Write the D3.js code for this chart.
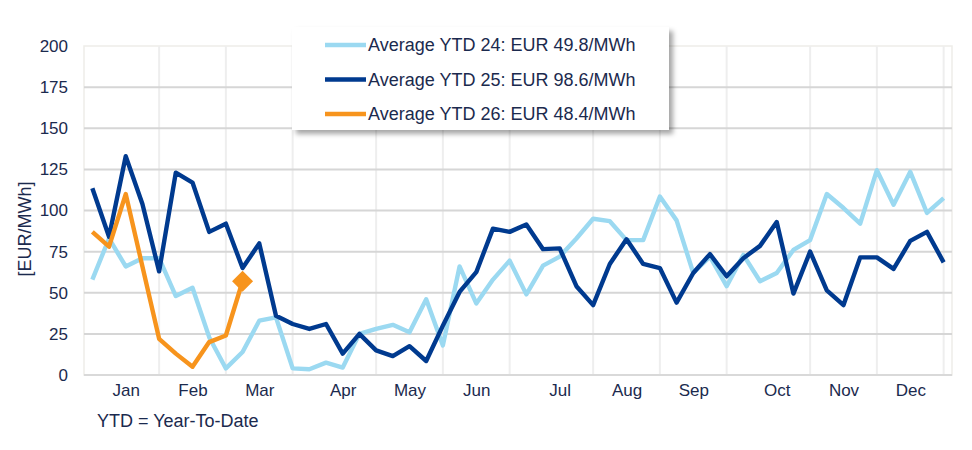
<!DOCTYPE html>
<html>
<head>
<meta charset="utf-8">
<script src="https://cdn.jsdelivr.net/npm/d3@7"></script>
<style>
  html, body { margin: 0; padding: 0; background: #fff; }
  svg { display: block; font-family: "Liberation Sans", Arial, sans-serif; }
</style>
</head>
<body>
<svg id="chart" width="972" height="450"></svg>
<script>
// ---- data ----
const weeks = d3.range(1, 53);
const series24 = [58, 83, 66, 71, 71, 48, 53, 23, 4, 14, 33, 35, 4, 3.5, 7.5, 4.5, 25, 28, 30.5, 26,
  46, 18, 66, 43.5, 58, 69.5, 49, 66.5, 72, 83, 95, 93.5, 82, 82, 108.5, 94, 62, 72, 54, 73,
  57, 62, 76, 82, 110, 101.5, 92, 124.5, 103.5, 123.5, 98.5, 107.5];
const series25 = [113.5, 84, 133, 104, 63, 123, 117, 87, 92, 65, 80, 36, 31, 28, 31, 13, 25, 15, 11.5, 17.5,
  8.5, 30, 50.5, 62.5, 89, 87, 91.5, 76.5, 77, 54, 42.5, 67.5, 82.5, 67.5, 65, 44, 62, 73.5, 60, 71,
  78.5, 93, 49.5, 75, 51.5, 42.5, 71.5, 71.5, 64.5, 81.5, 87, 68.5];
const series26 = [87, 78, 110, 66, 22, 13, 5, 20, 24, 57];
const seriesNames = ["Average YTD 24: EUR 49.8/MWh", "Average YTD 25: EUR 98.6/MWh", "Average YTD 26: EUR 48.4/MWh"];
const yTicks = [0, 25, 50, 75, 100, 125, 150, 175, 200];
const monthLabels = ["Jan", "Feb", "Mar", "Apr", "May", "Jun", "Jul", "Aug", "Sep", "Oct", "Nov", "Dec"];
const monthLabelWeeks = [3, 7, 11, 16, 20, 24, 29, 33, 37, 42, 46, 50];
const monthGridWeeks = [5, 9, 13, 18, 22, 26, 31, 35, 39, 44, 48, 52];

// ---- layout ----
const colors = ["#9bd9f1", "#003a8f", "#f7941d"];
const textColor = "#1b2a4e";
const pLeft = 84, pRight = 952, pTop = 46, pBottom = 375;

const svg = d3.select("#chart");
const x = d3.scalePoint().domain(weeks).range([pLeft, pRight]).padding(0.5);
const y = d3.scaleLinear().domain([0, 200]).range([pBottom, pTop]);

// plot border
svg.append("rect").attr("x", pLeft).attr("y", pTop).attr("width", pRight - pLeft).attr("height", pBottom - pTop)
  .attr("fill", "none").attr("stroke", "#eeede9").attr("stroke-width", 1.5);

// vertical grid
svg.append("g").selectAll("line").data(monthGridWeeks).join("line")
  .attr("x1", d => x(d)).attr("x2", d => x(d)).attr("y1", pTop).attr("y2", pBottom)
  .attr("stroke", "#eeeeee").attr("stroke-width", 2);

// horizontal grid + y axis labels
const yAxis = d3.axisLeft(y).tickValues(yTicks).tickSize(0).tickPadding(16);
const gy = svg.append("g").attr("transform", `translate(${pLeft},0)`).call(yAxis);
gy.select(".domain").remove();
gy.selectAll("text").attr("fill", textColor).style("font-size", "17px")
  .attr("font-family", "Liberation Sans, Arial, sans-serif");
svg.append("g").selectAll("line").data(yTicks.filter(d => d > 0 && d < 200)).join("line")
  .attr("x1", pLeft).attr("x2", pRight).attr("y1", d => y(d)).attr("y2", d => y(d))
  .attr("stroke", "#d6d6d6").attr("stroke-width", 2);
svg.append("line").attr("x1", pLeft).attr("x2", pRight).attr("y1", y(0)).attr("y2", y(0))
  .attr("stroke", "#d9d9d9").attr("stroke-width", 2);

// x axis labels
const xAxis = d3.axisBottom(x).tickValues(monthLabelWeeks)
  .tickFormat(d => monthLabels[monthLabelWeeks.indexOf(d)]).tickSize(0).tickPadding(9);
const gx = svg.append("g").attr("transform", `translate(0,${pBottom})`).call(xAxis);
gx.select(".domain").remove();
gx.selectAll("text").attr("fill", textColor).style("font-size", "17px")
  .attr("font-family", "Liberation Sans, Arial, sans-serif");

// y axis title
svg.append("text").attr("transform", `translate(25,229) rotate(-90)`)
  .attr("text-anchor", "middle").attr("dominant-baseline", "central")
  .attr("fill", textColor).style("font-size", "18px").text("[EUR/MWh]");

// lines
const line = d3.line().x((d, i) => x(weeks[i])).y(d => y(d));
[series24, series25, series26].forEach((s, k) => {
  svg.append("path").datum(s).attr("d", line)
    .attr("fill", "none").attr("stroke", colors[k]).attr("stroke-width", 4.4)
    .attr("stroke-linejoin", "round").attr("stroke-linecap", "butt");
});

// diamond marker at last orange point
const lastI = series26.length - 1;
svg.append("path")
  .attr("d", d3.symbol().type(d3.symbolDiamond2).size(281)())
  .attr("transform", `translate(${x(weeks[lastI])},${y(series26[lastI])})`)
  .attr("fill", colors[2]);

// legend
const defs = svg.append("defs");
const f = defs.append("filter").attr("id", "shadow").attr("x", "-10%").attr("y", "-10%").attr("width", "130%").attr("height", "140%");
f.append("feDropShadow").attr("dx", 4).attr("dy", 4).attr("stdDeviation", 2.5)
  .attr("flood-color", "#000").attr("flood-opacity", 0.35);
const lg = svg.append("g");
lg.append("rect").attr("x", 292).attr("y", 27).attr("width", 377).attr("height", 103)
  .attr("fill", "#fff").attr("filter", "url(#shadow)");
seriesNames.forEach((name, k) => {
  const ly = 45 + k * 34.5;
  lg.append("line").attr("x1", 325).attr("x2", 366).attr("y1", ly).attr("y2", ly)
    .attr("stroke", colors[k]).attr("stroke-width", 4.4);
  lg.append("text").attr("x", 368).attr("y", ly).attr("dominant-baseline", "central")
    .attr("fill", textColor).style("font-size", "18px").text(name);
});

// footnote
svg.append("text").attr("x", 97).attr("y", 421).attr("dominant-baseline", "central")
  .attr("fill", textColor).style("font-size", "18px").text("YTD = Year-To-Date");
</script>
</body>
</html>
